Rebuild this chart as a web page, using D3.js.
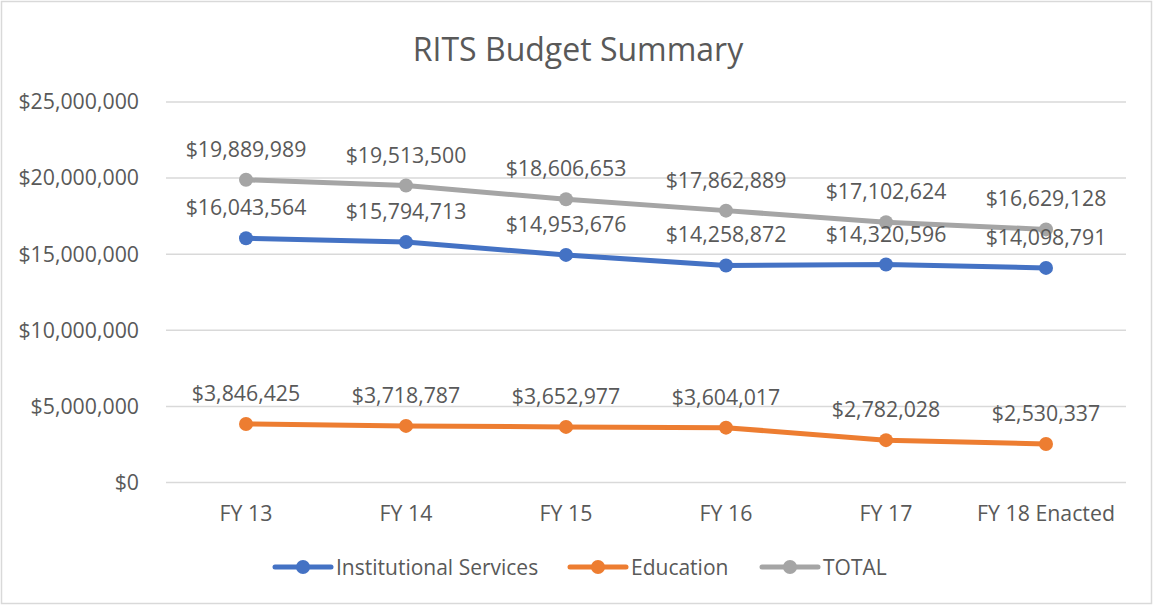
<!DOCTYPE html>
<html>
<head>
<meta charset="utf-8">
<script src="https://cdn.jsdelivr.net/npm/d3@7"></script>
<style>
  body { margin: 0; background: #fff; }
  text { font-family: "Open Sans", Lato, sans-serif; fill: #595959; }
</style>
</head>
<body>
<div id="chart"></div>
<script>
const categories = ["FY 13", "FY 14", "FY 15", "FY 16", "FY 17", "FY 18 Enacted"];
const institutional = [16043564, 15794713, 14953676, 14258872, 14320596, 14098791];
const education = [3846425, 3718787, 3652977, 3604017, 2782028, 2530337];
const total = [19889989, 19513500, 18606653, 17862889, 17102624, 16629128];
const yTicks = [0, 5000000, 10000000, 15000000, 20000000, 25000000];

const series = [
    { name: "Institutional Services", values: institutional, color: "#4472C4" },
    { name: "Education", values: education, color: "#ED7D31" },
    { name: "TOTAL", values: total, color: "#A5A5A5" }
];

const width = 1154, height = 606;
const svg = d3.select("#chart")
    .append("svg")
    .attr("width", width)
    .attr("height", height);

// outer frame
svg.append("rect")
    .attr("x", 1.5).attr("y", 1.5)
    .attr("width", width - 4).attr("height", height - 4)
    .attr("fill", "#fff")
    .attr("stroke", "#d9d9d9")
    .attr("stroke-width", 1.5);

svg.append("text")
    .attr("x", 578)
    .attr("y", 61)
    .attr("text-anchor", "middle")
    .style("font-size", "32px")
    .text("RITS Budget Summary");

const xScale = d3.scaleBand()
    .domain(categories)
    .range([166, 1126]);

const yScale = d3.scaleLinear()
    .domain([0, 25000000])
    .range([482.5, 102]);

const fmt = d => "$" + d3.format(",")(d);

// gridlines
svg.append("g")
    .selectAll("line")
    .data(yTicks)
    .enter()
    .append("line")
    .attr("x1", 166).attr("x2", 1126)
    .attr("y1", d => yScale(d)).attr("y2", d => yScale(d))
    .attr("stroke", "#d9d9d9")
    .attr("stroke-width", 1.5);

// y axis labels
const yAxis = svg.append("g")
    .attr("transform", "translate(150,0)")
    .call(d3.axisLeft(yScale).tickValues(yTicks).tickFormat(fmt).tickSize(0).tickPadding(11));
yAxis.select(".domain").remove();
yAxis.selectAll("text")
    .style("font-size", "21.3px")
    .attr("fill", "#595959")
    .style("font-family", "'Open Sans', sans-serif");

// x axis labels
const xAxis = svg.append("g")
    .attr("transform", "translate(0,482.5)")
    .call(d3.axisBottom(xScale).tickSize(0).tickPadding(23));
xAxis.select(".domain").remove();
xAxis.selectAll("text")
    .style("font-size", "21.3px")
    .attr("fill", "#595959")
    .style("font-family", "'Open Sans', sans-serif");

const cx = d => xScale(d) + xScale.bandwidth() / 2;

const line = d3.line()
    .x((d, i) => cx(categories[i]))
    .y(d => yScale(d));

series.forEach(s => {
    const g = svg.append("g");
    g.append("path")
        .datum(s.values)
        .attr("d", line)
        .attr("fill", "none")
        .attr("stroke", s.color)
        .attr("stroke-width", 5)
        .attr("stroke-linejoin", "round")
        .attr("stroke-linecap", "round");
    g.selectAll("circle")
        .data(s.values)
        .enter()
        .append("circle")
        .attr("cx", (d, i) => cx(categories[i]))
        .attr("cy", d => yScale(d))
        .attr("r", 7)
        .attr("fill", s.color);
});

// data labels
series.forEach(s => {
    svg.append("g")
        .selectAll("text")
        .data(s.values)
        .enter()
        .append("text")
        .attr("x", (d, i) => cx(categories[i]))
        .attr("y", d => yScale(d) - 23)
        .attr("text-anchor", "middle")
        .style("font-size", "21.3px")
        .text(fmt);
});

// legend
const legendX = [275, 570, 762];
series.forEach((s, i) => {
    const g = svg.append("g").attr("transform", `translate(${legendX[i]},567)`);
    g.append("line")
        .attr("x1", 0).attr("x2", 56)
        .attr("stroke", s.color)
        .attr("stroke-width", 5)
        .attr("stroke-linecap", "round");
    g.append("circle").attr("cx", 28).attr("r", 7).attr("fill", s.color);
    g.append("text")
        .attr("x", 61)
        .attr("y", 7.5)
        .style("font-size", "21px")
        .text(s.name);
});
</script>
</body>
</html>
